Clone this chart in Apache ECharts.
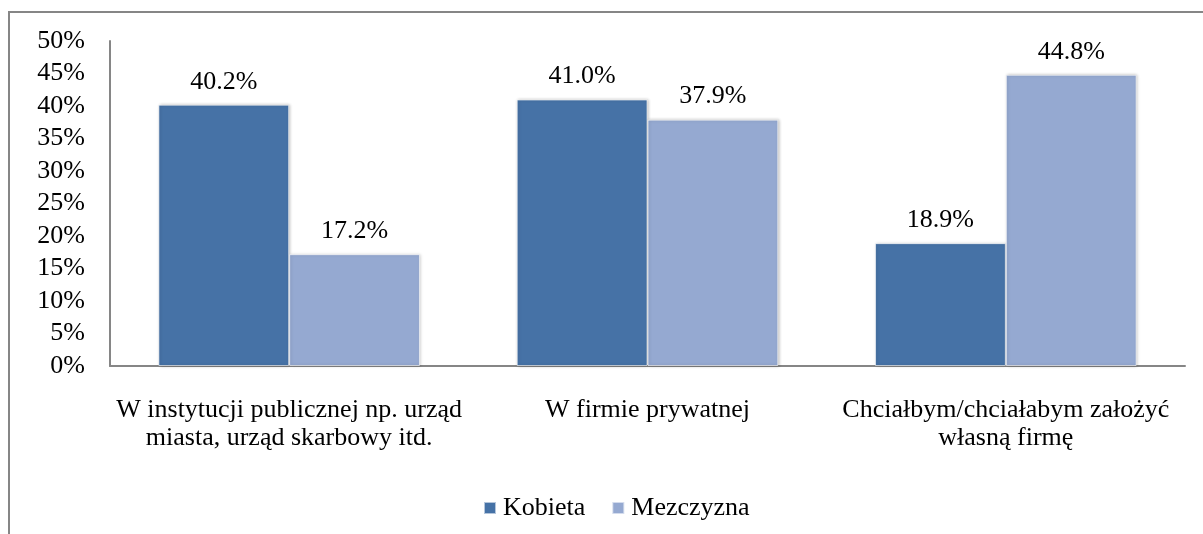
<!DOCTYPE html>
<html>
<head>
<meta charset="utf-8">
<script src="https://cdn.jsdelivr.net/npm/echarts@6/dist/echarts.min.js"></script>
<style>html,body{margin:0;padding:0;background:#fff}#c{width:1203px;height:534px}</style>
</head>
<body>
<div id="c"></div>
<script>
const categories = [
  "W instytucji publicznej np. urząd\nmiasta, urząd skarbowy itd.",
  "W firmie prywatnej",
  "Chciałbym/chciałabym założyć\nwłasną firmę"
];
const seriesNames = ["Kobieta", "Mezczyzna"];
const kobieta = [40.2, 41.0, 18.9];
const mezczyzna = [17.2, 37.9, 44.8];
const yTicks = [0, 5, 10, 15, 20, 25, 30, 35, 40, 45, 50];

const font = "'Liberation Serif', 'Times New Roman', serif";
const chart = echarts.init(document.getElementById('c'));
const barStyle = (color) => ({
  color: color,
  borderColor: 'rgba(255,255,255,0.6)',
  borderWidth: 1,
  shadowColor: 'rgba(0,0,0,0.25)',
  shadowBlur: 3,
  shadowOffsetX: 1,
  shadowOffsetY: 0
});
const label = {
  show: true, position: 'top', distance: 10,
  fontFamily: font, fontSize: 26, color: '#000',
  formatter: p => p.value.toFixed(1) + '%'
};
chart.setOption({
  animation: false,
  backgroundColor: '#fff',
  graphic: [{
    type: 'rect', silent: true,
    shape: { x: 9, y: 12, width: 1400, height: 800 },
    style: { fill: 'none', stroke: '#868686', lineWidth: 2 }
  }],
  grid: { left: 110, right: 18, top: 41, bottom: 168 },
  legend: {
    data: seriesNames,
    left: 478, top: 490,
    itemWidth: 12, itemHeight: 12, itemGap: 26,
    icon: 'rect',
    textStyle: { fontFamily: font, fontSize: 26, color: '#000', padding: [0, 0, 0, 2] }
  },
  xAxis: {
    type: 'category', data: categories,
    axisLine: { lineStyle: { color: '#868686', width: 2 } },
    axisTick: { show: false },
    axisLabel: { fontFamily: font, fontSize: 26, color: '#000', margin: 30, lineHeight: 28, interval: 0 }
  },
  yAxis: {
    type: 'value', min: 0, max: 50, interval: 5,
    axisLine: { show: true, lineStyle: { color: '#868686', width: 2 } },
    axisTick: { show: false },
    splitLine: { show: false },
    axisLabel: {
      fontFamily: font, fontSize: 26, color: '#000', margin: 25,
      formatter: v => yTicks.includes(v) ? v + '%' : ''
    }
  },
  series: [
    { name: seriesNames[0], type: 'bar', data: kobieta, barGap: '0%', barCategoryGap: '27%',
      itemStyle: barStyle('#4672a6'), label: label },
    { name: seriesNames[1], type: 'bar', data: mezczyzna,
      itemStyle: barStyle('#95a9d1'), label: label }
  ]
});
</script>
</body>
</html>
